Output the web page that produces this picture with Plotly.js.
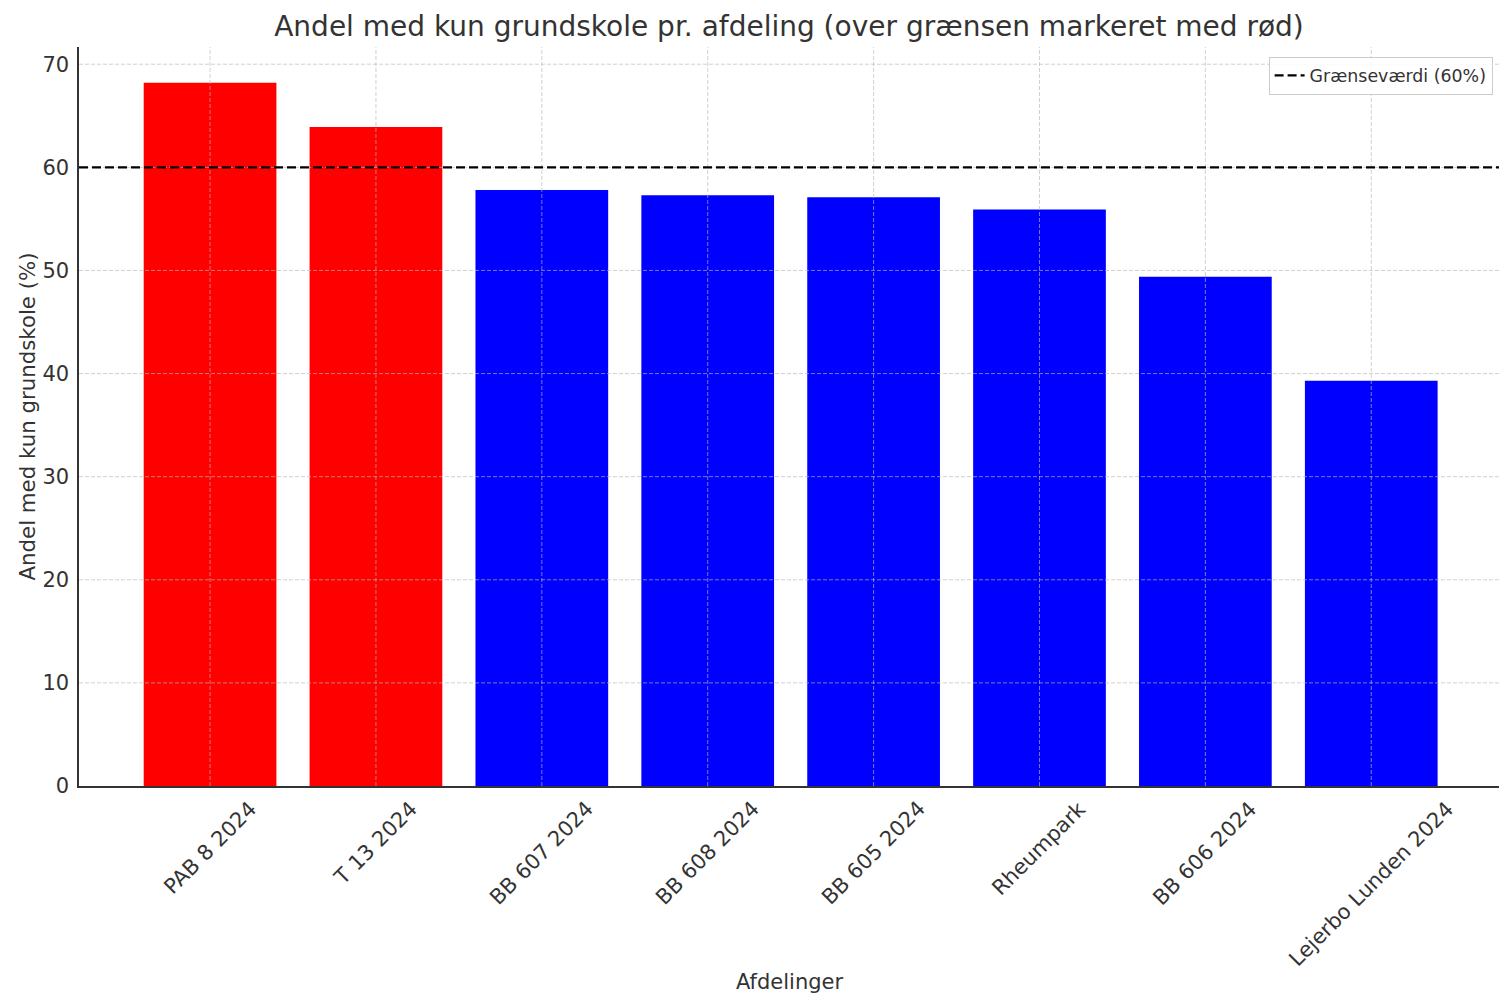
<!DOCTYPE html>
<html>
<head>
<meta charset="utf-8">
<script src="https://cdn.plot.ly/plotly-3.0.1.min.js"></script>
<style>html,body{margin:0;padding:0;background:#fff;}</style>
</head>
<body>
<div id="chart" style="width:1499px;height:1002px;"></div>
<script>
const categories = ["PAB 8 2024", "T 13 2024", "BB 607 2024", "BB 608 2024", "BB 605 2024", "Rheumpark", "BB 606 2024", "Lejerbo Lunden 2024"];
const values = [68.2, 63.9, 57.8, 57.3, 57.1, 55.9, 49.4, 39.3];
const threshold = 60;
const yTicks = [0, 10, 20, 30, 40, 50, 60, 70];

const FONT = "DejaVu Sans, sans-serif";
const TXT = "#333333";
const GRID = "rgba(185,185,185,0.65)";

const colors = values.map(v => v > threshold ? "#ff0000" : "#0000ff");
const xIdx = categories.map((c, i) => i);

const bars = {
  type: "bar",
  x: xIdx,
  y: values,
  width: 0.8,
  marker: { color: colors, line: { width: 0 } },
  showlegend: false,
  hoverinfo: "x+y"
};

const shapes = [];
// grid lines drawn above bars (as in reference)
yTicks.forEach(t => {
  if (t === 0) return;
  shapes.push({ type: "line", xref: "paper", x0: 0, x1: 1, yref: "y", y0: t, y1: t,
    line: { color: GRID, width: 1, dash: "4px,2px" }, layer: "above" });
});
xIdx.forEach(i => {
  shapes.push({ type: "line", xref: "x", x0: i, x1: i, yref: "paper", y0: 0, y1: 1,
    line: { color: GRID, width: 1, dash: "4px,2px" }, layer: "above" });
});
// threshold line
shapes.push({ type: "line", xref: "paper", x0: 0, x1: 1, yref: "y", y0: threshold, y1: threshold,
  line: { color: "#000000", width: 2.4, dash: "9px,4px" }, layer: "above",
  showlegend: true, name: "Grænseværdi (60%)" });

const annotations = categories.map((c, i) => ({
  text: c, x: i, xref: "x", y: 0, yref: "paper", yshift: -8,
  xanchor: "center", yanchor: "top", textangle: -45, showarrow: false,
  font: { family: FONT, size: 21, color: TXT }
}));
annotations.push({
  text: "Afdelinger", xref: "paper", x: 0.5, yref: "paper", y: -0.2652,
  xanchor: "center", yanchor: "middle", showarrow: false,
  font: { family: FONT, size: 21, color: TXT }
});
annotations.push({
  text: "Andel med kun grundskole (%)", xref: "paper", x: -0.0366, yref: "paper", y: 0.5,
  xanchor: "center", yanchor: "middle", textangle: -90, showarrow: false,
  font: { family: FONT, size: 21.3, color: TXT }
});

const layout = {
  width: 1499, height: 1002,
  margin: { l: 79, r: 0, t: 47, b: 216 },
  paper_bgcolor: "#ffffff", plot_bgcolor: "#ffffff",
  font: { family: FONT, color: TXT },
  title: {
    text: "Andel med kun grundskole pr. afdeling (over grænsen markeret med rød)",
    x: 0.5, xref: "paper", y: 1 - 26 / 1002, yref: "container", yanchor: "middle",
    font: { family: FONT, size: 28, color: TXT }
  },
  xaxis: {
    range: [-0.79, 7.77], tickvals: xIdx, showticklabels: false,
    ticks: "", showgrid: false, zeroline: false,
    showline: true, linecolor: "#333", linewidth: 1.6, fixedrange: true
  },
  yaxis: {
    range: [0, 71.67], tickvals: yTicks, ticktext: yTicks.map(String),
    ticks: "outside", ticklen: 4, tickwidth: 1, tickcolor: "rgba(0,0,0,0)",
    tickfont: { family: FONT, size: 21, color: TXT },
    showgrid: false, zeroline: false,
    showline: true, linecolor: "#333", linewidth: 1.6, fixedrange: true
  },
  legend: {
    x: 0.9955, xanchor: "right", y: 0.987, yanchor: "top",
    bgcolor: "rgba(255,255,255,0.85)", bordercolor: "#cccccc", borderwidth: 1,
    font: { family: FONT, size: 17.4, color: TXT }
  },
  shapes: shapes,
  annotations: annotations,
  bargap: 0.2
};

Plotly.newPlot("chart", [bars], layout, { displayModeBar: false, staticPlot: true });
</script>
</body>
</html>
